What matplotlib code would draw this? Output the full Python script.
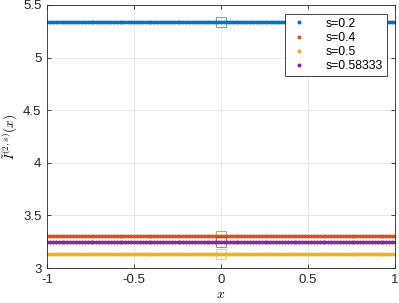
import numpy as np
import matplotlib
matplotlib.use('Agg')
from matplotlib import pyplot as plt

plt.rcParams['mathtext.fontset'] = 'cm'
plt.rcParams['font.family'] = ['Liberation Sans', 'DejaVu Sans']

# Series values (constant over x)
x = np.linspace(-1, 1, 121)
s_labels = ['s=0.2', 's=0.4', 's=0.5', 's=0.58333']
levels = [5.34, 3.30, 3.135, 3.245]
colors = ['#0072BD', '#D95319', '#EDB120', '#7E2F8E']

fig = plt.figure(figsize=(3.99, 3.03), dpi=100)
ax = fig.add_axes([0.118, 0.1155, 0.872, 0.868])

for lab, lev, c in zip(s_labels, levels, colors):
    ax.plot(x, np.full_like(x, lev), 'o', ms=2.9, mew=0, color=c, label=lab)
    # highlighted point at x = 0
    ax.plot([0], [lev], 's', ms=7.5, mfc='none', mec=c, mew=0.8, alpha=0.6)

ax.set_xlim(-1, 1)
ax.set_ylim(3, 5.5)
ax.set_xticks([-1, -0.5, 0, 0.5, 1])
ax.set_xticklabels(['-1', '-0.5', '0', '0.5', '1'])
ax.set_yticks([3, 3.5, 4, 4.5, 5, 5.5])
ax.set_yticklabels(['3', '3.5', '4', '4.5', '5', '5.5'])
ax.grid(True, color='#e6e6e6', lw=0.6)
ax.set_axisbelow(True)
ax.tick_params(direction='in', length=3, width=0.6, labelsize=9.5,
               colors='#262626', top=True, right=True, pad=4)
for sp in ax.spines.values():
    sp.set_color('#262626')
    sp.set_linewidth(0.6)

ax.set_xlabel('$x$', fontsize=10, labelpad=1)
ax.set_ylabel(r'$\tilde{I}^{(2,s)}(x)$', fontsize=9.5, labelpad=2)

leg = ax.legend(loc='upper right', bbox_to_anchor=(0.977, 0.966), fontsize=8.8,
                fancybox=False, edgecolor='#262626', framealpha=1,
                markerscale=1.0, handletextpad=1.3, borderpad=0.3,
                labelspacing=0.18, handlelength=1.8, borderaxespad=0)
leg.get_frame().set_linewidth(0.6)

fig.savefig('out.png', dpi=100)
